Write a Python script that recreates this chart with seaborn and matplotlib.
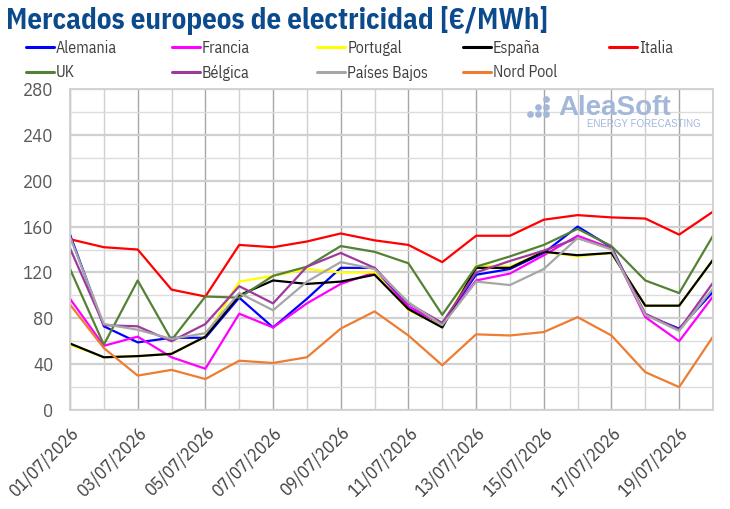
import pandas as pd
import numpy as np
import matplotlib
matplotlib.use("Agg")
import matplotlib.pyplot as plt
import matplotlib.dates as mdates
from matplotlib.lines import Line2D
import seaborn as sns

# ---- datos (EUR/MWh, 01/07 a 20/07/2026) ----
fechas = pd.date_range("2026-07-01", "2026-07-20", freq="D")

alemania = [153, 73, 59, 63, 63, 98, 72, 97, 124, 124, 90, 75, 118, 123, 137, 160, 142, 83, 71, 103]
francia = [97, 56, 64, 46, 36, 84, 72, 93, 110, 120, 90, 75, 113, 119, 135, 152, 141, 81, 60, 99]
portugal = [57, 46, 47, 49, 64, 112, 117, 123, 120, 120, 87, 73, 126, 125, 138, 134, 137, 91, 91, 131]
espana = [58, 46, 47, 49, 64, 100, 113, 110, 112, 118, 88, 72, 124, 124, 138, 135, 137, 91, 91, 131]
italia = [149, 142, 140, 105, 99, 144, 142, 147, 154, 148, 144, 129, 152, 152, 166, 170, 168, 167, 153, 173]
uk = [123, 57, 113, 61, 99, 98, 117, 125, 143, 138, 128, 83, 125, 134, 144, 158, 143, 113, 102, 152]
belgica = [141, 74, 73, 60, 75, 108, 93, 125, 137, 124, 93, 76, 120, 130, 139, 150, 141, 84, 70, 111]
paises_bajos = [151, 75, 70, 62, 67, 102, 87, 112, 129, 123, 94, 74, 112, 109, 123, 150, 140, 83, 69, 106]
nord_pool = [92, 54, 30, 35, 27, 43, 41, 46, 71, 86, 65, 39, 66, 65, 68, 81, 65, 33, 20, 64]

mercados = ["Alemania", "Francia", "Portugal", "España", "Italia",
            "UK", "Bélgica", "Países Bajos", "Nord Pool"]
colores = ["#0000ff", "#ff00ff", "#ffff00", "#000000", "#ff0000",
           "#548235", "#9e3a9e", "#a6a6a6", "#ed7d31"]

series = [alemania, francia, portugal, espana, italia, uk, belgica, paises_bajos, nord_pool]
df = pd.concat([pd.DataFrame({"fecha": fechas, "precio": v, "mercado": m})
                for m, v in zip(mercados, series)], ignore_index=True)

FUENTE = ["IBM Plex Sans Condensed", "Roboto Condensed", "DejaVu Sans"]

sns.set_style("white")
plt.rcParams["font.family"] = FUENTE

fig = plt.figure(figsize=(7.3, 5.09), dpi=100)
ax = fig.add_axes([0.0959, 0.1945, 0.8808, 0.6306])

sns.lineplot(data=df, x="fecha", y="precio", hue="mercado", hue_order=mercados,
             palette=dict(zip(mercados, colores)), linewidth=1.6, ax=ax, legend=False)

# ejes y rejilla
ax.set_xlim(fechas[0], fechas[-1])
ax.set_ylim(0, 280)
ax.set_yticks(np.arange(0, 281, 40))
ax.set_yticks(np.arange(0, 281, 20), minor=True)
ax.xaxis.set_major_locator(mdates.DayLocator(bymonthday=range(1, 32, 2)))
ax.xaxis.set_minor_locator(mdates.DayLocator())
ax.xaxis.set_major_formatter(mdates.DateFormatter("%d/%m/%Y"))

ax.grid(axis="y", which="major", color="#d0d0d0", linewidth=1.6)
ax.grid(axis="y", which="minor", color="#dcdcdc", linewidth=1.0)
ax.grid(axis="x", which="major", color="#a6a6a6", linewidth=1.0)
ax.grid(axis="x", which="minor", color="#d0d0d0", linewidth=1.0)
ax.set_axisbelow(True)
for s in ax.spines.values():
    s.set_color("#d0d0d0")
    s.set_linewidth(1.3)

ax.tick_params(axis="y", which="both", length=0, labelsize=13.5, labelcolor="#595959", pad=12)
ax.tick_params(axis="x", which="both", length=5, color="#bfbfbf", labelsize=13,
               labelcolor="#404040", pad=5)
plt.setp(ax.get_xticklabels(), rotation=45, ha="right", rotation_mode="anchor")
ax.set_xlabel("")
ax.set_ylabel("")

# titulo
fig.text(0.008, 0.96, "Mercados europeos de electricidad [€/MWh]", fontsize=20.8,
         fontweight="bold", color="#0b4a8c", ha="left", va="center")

# leyenda: una columna cada 146 px, como en el original
orden = [[0, 5], [1, 6], [2, 7], [3, 8], [4]]
for c, col in enumerate(orden):
    hs = [Line2D([], [], color=colores[i], linewidth=2.2) for i in col]
    leg = fig.legend(hs, [mercados[i] for i in col], loc="upper left",
                     bbox_to_anchor=((26 + 145.7 * c) / 730, 0.922), frameon=False,
                     fontsize=11.5, handlelength=1.75, handletextpad=0.12,
                     labelspacing=0.55, borderaxespad=0, borderpad=0)
    for t in leg.get_texts():
        t.set_color("#404040")

# marca de agua
marca = "#a3b7d9"
ax.text(0.847, 0.941, "AleaSoft", transform=ax.transAxes, fontsize=20, fontweight="bold",
        color=marca, ha="center", va="center", family=["Liberation Sans", "DejaVu Sans"])
ax.text(0.892, 0.891, "ENERGY FORECASTING", transform=ax.transAxes, fontsize=7,
        color=marca, ha="center", va="center", family=["Liberation Sans", "DejaVu Sans"])
dx = [0.7154, 0.7278, 0.7278, 0.7403, 0.7403, 0.7403]
dy = [0.922, 0.922, 0.944, 0.922, 0.944, 0.969]
ax.plot(dx, dy, "o", color=marca, markersize=3.8, transform=ax.transAxes, clip_on=False)

fig.savefig("out.png", dpi=100)
